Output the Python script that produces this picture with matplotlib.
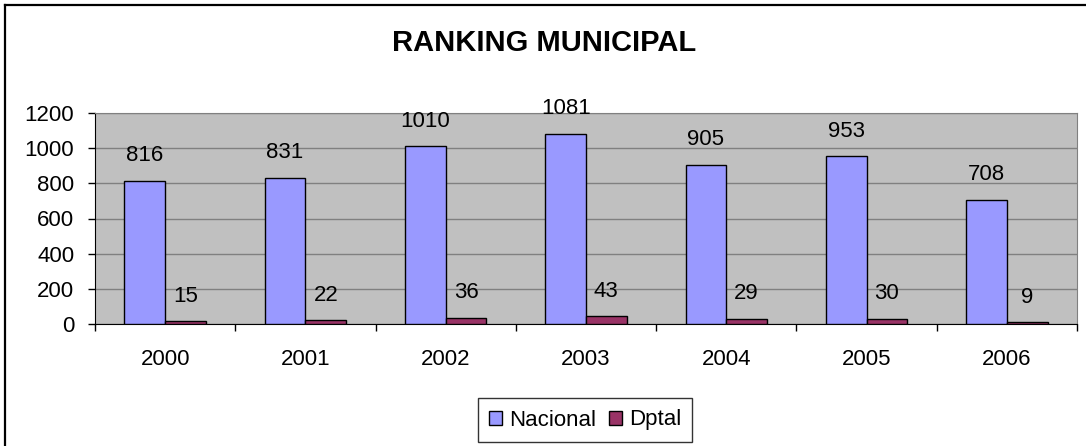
import numpy as np
import matplotlib
matplotlib.use("Agg")
import matplotlib.pyplot as plt
from matplotlib.patches import Patch
from matplotlib.lines import Line2D

# =============================================================================
# DATA
# =============================================================================
years = ["2000", "2001", "2002", "2003", "2004", "2005", "2006"]
nacional = [816, 831, 1010, 1081, 905, 953, 708]
dptal = [15, 22, 36, 43, 29, 30, 9]
series_names = ["Nacional", "Dptal"]
y_ticks = [0, 200, 400, 600, 800, 1000, 1200]

# =============================================================================
# PLOT
# =============================================================================
plt.rcParams['font.family'] = ['Liberation Sans', 'DejaVu Sans']

W, H = 1086, 446
fig = plt.figure(figsize=(W / 100, H / 100), dpi=100)
fig.patch.set_facecolor('white')

# outer chart frame (right / bottom cut off in the original)
fig.add_artist(Line2D([5 / W, 5 / W], [0, 1 - 5 / H], transform=fig.transFigure, color='black', lw=1.6))
fig.add_artist(Line2D([5 / W, 1], [1 - 5 / H, 1 - 5 / H], transform=fig.transFigure, color='black', lw=1.6))

ax = fig.add_axes([95 / W, 1 - 324 / H, (1077 - 95) / W, (324 - 113) / H])
ax.set_facecolor('#C0C0C0')

x = np.arange(len(years))
bw = 0.29
b1 = ax.bar(x - bw / 2, nacional, bw, color='#9999FF', edgecolor='black', linewidth=1, zorder=3)
b2 = ax.bar(x + bw / 2, dptal, bw, color='#993366', edgecolor='black', linewidth=1, zorder=3)

for bars in (b1, b2):
    for rect in bars:
        ax.annotate(f"{int(rect.get_height())}",
                    xy=(rect.get_x() + rect.get_width() / 2, rect.get_height()),
                    xytext=(0, 18), textcoords='offset points',
                    ha='center', va='center', fontsize=16, zorder=4)

ax.set_xlim(-0.5, len(years) - 0.5)
ax.set_ylim(0, 1200)
ax.set_yticks(y_ticks)
ax.yaxis.grid(True, color='#808080', linewidth=1, zorder=1)
ax.set_axisbelow(True)

# category boundaries as major ticks, labels on minor ticks
ax.set_xticks(np.arange(len(years) + 1) - 0.5)
ax.set_xticklabels([])
ax.set_xticks(x, minor=True)
ax.set_xticklabels(years, minor=True)
ax.tick_params(axis='x', which='major', direction='out', length=5, width=1, color='black')
ax.tick_params(axis='x', which='minor', length=0, pad=18, labelsize=16)
ax.tick_params(axis='y', direction='out', length=5, width=1, pad=10, labelsize=16, color='black')

for s in ('top', 'right'):
    ax.spines[s].set_color('#808080')
ax.spines['left'].set_color('black')
ax.spines['bottom'].set_color('black')

fig.text(544 / W, 1 - 43 / H, "RANKING MUNICIPAL", ha='center', va='center',
         fontsize=21, fontweight='bold')

handles = [Patch(facecolor='#9999FF', edgecolor='black'),
           Patch(facecolor='#993366', edgecolor='black')]
leg = fig.legend(handles, series_names, loc='center', bbox_to_anchor=(585 / W, 1 - 420 / H),
                 ncol=2, fontsize=16, frameon=True, fancybox=False, edgecolor='black',
                 handlelength=0.6, handleheight=0.6, handletextpad=0.3, columnspacing=0.6,
                 borderpad=0.5, borderaxespad=0)
leg.get_frame().set_linewidth(1)

fig.savefig("out.png", dpi=100)
